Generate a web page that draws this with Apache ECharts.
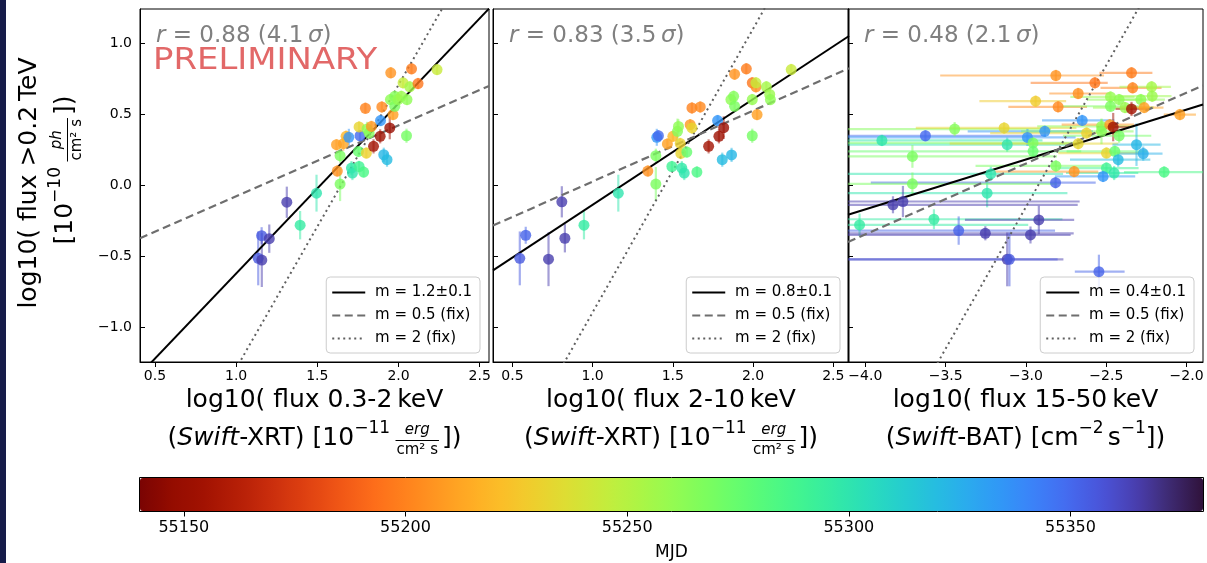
<!DOCTYPE html>
<html>
<head>
<meta charset="utf-8">
<script src="https://cdn.jsdelivr.net/npm/echarts@6.0.0/dist/echarts.min.js"></script>
<style>
  html, body { margin: 0; padding: 0; background: #fff; }
  #chart { width: 1207px; height: 563px; }
</style>
</head>
<body>
<div id="chart"></div>
<script>
// [log10 flux 0.3-2 keV, log10 flux >0.2 TeV, MJD, yErr]
const softXrt = [
  [1.157, -0.354, 55355, 0.06], [1.204, -0.375, 55365, 0.10], [1.136, -0.514, 55355, 0.19],
  [1.158, -0.526, 55365, 0.19], [1.312, -0.118, 55365, 0.11], [1.394, -0.280, 55296, 0.10],
  [1.495, -0.054, 55300, 0.13], [1.623, 0.102, 55205, 0.04], [1.640, 0.010, 55268, 0.12],
  [1.640, 0.210, 55268, 0.05], [1.660, 0.295, 55212, 0.05], [1.677, 0.347, 55218, 0.04],
  [1.618, 0.288, 55210, 0.04], [1.694, 0.340, 55335, 0.06], [1.710, 0.123, 55298, 0.05],
  [1.716, 0.088, 55300, 0.05], [1.753, 0.240, 55275, 0.04], [1.757, 0.134, 55290, 0.04],
  [1.763, 0.351, 55350, 0.04], [1.757, 0.413, 55232, 0.04], [1.785, 0.095, 55285, 0.04],
  [1.796, 0.545, 55200, 0.04], [1.802, 0.229, 55230, 0.04], [1.806, 0.399, 55262, 0.05],
  [1.819, 0.370, 55265, 0.04], [1.846, 0.276, 55155, 0.05], [1.833, 0.417, 55208, 0.04],
  [1.887, 0.347, 55152, 0.05], [1.897, 0.554, 55202, 0.04], [1.889, 0.458, 55335, 0.04],
  [1.909, 0.217, 55322, 0.05], [1.929, 0.182, 55320, 0.05], [1.946, 0.406, 55150, 0.08],
  [1.952, 0.795, 55206, 0.04], [1.966, 0.500, 55210, 0.04], [1.950, 0.606, 55262, 0.04],
  [1.977, 0.629, 55265, 0.04], [1.977, 0.559, 55268, 0.04], [1.997, 0.606, 55260, 0.04],
  [2.017, 0.629, 55258, 0.04], [2.028, 0.724, 55245, 0.04], [2.052, 0.606, 55262, 0.04],
  [2.069, 0.696, 55255, 0.04], [2.080, 0.823, 55198, 0.04], [2.120, 0.719, 55196, 0.04],
  [2.049, 0.351, 55270, 0.05], [2.237, 0.818, 55244, 0.04]
];

// [log10 flux 2-10 keV, log10 flux >0.2 TeV, MJD, yErr]
const hardXrt = [
  [0.546, -0.514, 55355, 0.19], [0.583, -0.351, 55352, 0.06], [0.725, -0.520, 55365, 0.19],
  [0.808, -0.115, 55365, 0.11], [0.827, -0.372, 55365, 0.10], [0.946, -0.280, 55296, 0.10],
  [1.160, -0.054, 55300, 0.13], [1.344, 0.102, 55205, 0.04], [1.394, 0.010, 55268, 0.12],
  [1.394, 0.210, 55268, 0.05], [1.400, 0.340, 55335, 0.06], [1.410, 0.351, 55350, 0.04],
  [1.466, 0.293, 55210, 0.04], [1.494, 0.134, 55290, 0.04], [1.500, 0.347, 55218, 0.04],
  [1.529, 0.382, 55265, 0.09], [1.535, 0.417, 55262, 0.05], [1.546, 0.297, 55230, 0.04],
  [1.550, 0.226, 55232, 0.04], [1.556, 0.123, 55298, 0.05], [1.571, 0.088, 55300, 0.05],
  [1.587, 0.236, 55275, 0.04], [1.608, 0.429, 55208, 0.04], [1.619, 0.406, 55232, 0.04],
  [1.619, 0.547, 55200, 0.04], [1.650, 0.095, 55285, 0.04], [1.671, 0.554, 55202, 0.04],
  [1.723, 0.276, 55155, 0.05], [1.779, 0.458, 55335, 0.04], [1.787, 0.347, 55152, 0.05],
  [1.808, 0.182, 55320, 0.05], [1.817, 0.408, 55150, 0.08], [1.866, 0.216, 55322, 0.05],
  [1.862, 0.606, 55262, 0.04], [1.879, 0.629, 55265, 0.04], [1.885, 0.559, 55268, 0.04],
  [1.885, 0.785, 55206, 0.04], [1.958, 0.823, 55198, 0.04], [1.995, 0.606, 55260, 0.04],
  [1.995, 0.351, 55270, 0.05], [1.995, 0.724, 55196, 0.04], [2.018, 0.696, 55204, 0.04],
  [2.018, 0.724, 55245, 0.04], [2.025, 0.500, 55210, 0.04], [2.083, 0.696, 55255, 0.04],
  [2.104, 0.642, 55258, 0.04], [2.108, 0.606, 55262, 0.04], [2.238, 0.818, 55244, 0.04]
];

// [log10 flux 15-50 keV, log10 flux >0.2 TeV, MJD, xErrLow, xErrHigh, yErr]
const batFlux = [
  [-3.897, 0.318, 55300, 0.50, 1.00, 0.04], [-3.626, 0.351, 55350, 0.60, 0.75, 0.04],
  [-3.444, 0.398, 55265, 0.80, 0.60, 0.05], [-3.136, 0.406, 55232, 0.55, 0.45, 0.04],
  [-3.117, 0.288, 55300, 1.20, 0.45, 0.05], [-2.991, 0.339, 55335, 1.30, 0.30, 0.06],
  [-2.956, 0.300, 55268, 1.30, 0.30, 0.04], [-2.956, 0.241, 55275, 1.30, 0.30, 0.04],
  [-2.883, 0.382, 55335, 0.48, 0.30, 0.04], [-2.814, 0.776, 55206, 0.72, 0.30, 0.04],
  [-2.571, 0.724, 55196, 0.40, 0.08, 0.04], [-2.675, 0.649, 55204, 0.18, 0.20, 0.04],
  [-2.800, 0.555, 55202, 0.31, 0.18, 0.04], [-2.940, 0.595, 55228, 0.35, 0.19, 0.04],
  [-2.343, 0.795, 55198, 0.20, 0.13, 0.04], [-2.336, 0.689, 55200, 0.20, 0.18, 0.04],
  [-2.650, 0.459, 55335, 0.25, 0.20, 0.04], [-2.623, 0.370, 55230, 0.60, 0.20, 0.04],
  [-2.675, 0.295, 55232, 0.80, 0.25, 0.04], [-2.530, 0.417, 55262, 0.40, 0.20, 0.05],
  [-2.530, 0.382, 55265, 0.50, 0.20, 0.09], [-2.478, 0.429, 55208, 0.30, 0.15, 0.04],
  [-2.457, 0.412, 55152, 0.10, 0.10, 0.10], [-2.474, 0.625, 55260, 0.25, 0.15, 0.04],
  [-2.474, 0.559, 55268, 0.30, 0.20, 0.04], [-2.420, 0.606, 55262, 0.20, 0.15, 0.04],
  [-2.420, 0.351, 55270, 0.35, 0.20, 0.05], [-2.383, 0.550, 55258, 0.20, 0.18, 0.04],
  [-2.343, 0.540, 55155, 0.10, 0.10, 0.05], [-2.285, 0.606, 55262, 0.20, 0.15, 0.04],
  [-2.264, 0.550, 55210, 0.15, 0.12, 0.04], [-2.218, 0.696, 55255, 0.20, 0.12, 0.04],
  [-2.214, 0.630, 55258, 0.20, 0.12, 0.04], [-2.042, 0.500, 55210, 0.10, 0.10, 0.04],
  [-2.499, 0.229, 55232, 0.30, 0.20, 0.04], [-2.447, 0.241, 55275, 0.30, 0.20, 0.04],
  [-2.426, 0.182, 55320, 0.30, 0.20, 0.05], [-2.312, 0.288, 55322, 0.15, 0.15, 0.15],
  [-2.270, 0.225, 55325, 0.15, 0.12, 0.05], [-2.140, 0.095, 55285, 0.25, 0.25, 0.04],
  [-2.499, 0.123, 55290, 0.30, 0.20, 0.04], [-2.451, 0.088, 55298, 0.30, 0.15, 0.05],
  [-2.520, 0.064, 55335, 0.30, 0.20, 0.04], [-2.700, 0.098, 55206, 0.50, 0.15, 0.04],
  [-2.816, 0.020, 55352, 1.15, 0.25, 0.04], [-2.814, 0.138, 55268, 0.50, 0.30, 0.04],
  [-3.219, 0.082, 55300, 1.00, 0.45, 0.05], [-3.242, -0.054, 55300, 0.90, 0.50, 0.10],
  [-3.707, 0.205, 55268, 0.50, 0.90, 0.08], [-3.707, 0.012, 55268, 0.50, 0.90, 0.08],
  [-3.828, -0.136, 55365, 0.40, 1.15, 0.06], [-3.766, -0.113, 55365, 0.40, 1.10, 0.11],
  [-4.036, -0.278, 55296, 0.30, 1.05, 0.08], [-3.573, -0.238, 55296, 0.60, 0.80, 0.07],
  [-3.419, -0.318, 55352, 0.80, 0.60, 0.10], [-3.253, -0.337, 55365, 0.90, 0.55, 0.05],
  [-2.972, -0.349, 55365, 1.20, 0.25, 0.06], [-2.920, -0.243, 55365, 0.46, 0.22, 0.10],
  [-3.117, -0.521, 55365, 1.00, 0.35, 0.19], [-3.103, -0.521, 55355, 1.00, 0.30, 0.19],
  [-2.546, -0.608, 55352, 0.15, 0.16, 0.12]
];

const fitSlopes = [[1.2, 0.5, 2], [0.745, 0.5, 2], [0.352, 0.5, 2]];
const fitIntercepts = [[-1.821, -0.576, -3.29], [-0.881, -0.472, -2.895], [1.24, 1.655, 5.849]];
const fitLabels = [
  ['m = 1.2±0.1', 'm = 0.5 (fix)', 'm = 2 (fix)'],
  ['m = 0.8±0.1', 'm = 0.5 (fix)', 'm = 2 (fix)'],
  ['m = 0.4±0.1', 'm = 0.5 (fix)', 'm = 2 (fix)']
];
const corrR = ['0.88', '0.83', '0.48'];
const corrSigma = ['4.1', '3.5', '2.1'];
const bandLabels = ['0.3-2', '2-10', '15-50'];
const xRanges = [[0.408, 2.557], [0.379, 2.598], [-4.108, -1.898]];
const xTicks = [[0.5, 1.0, 1.5, 2.0, 2.5], [0.5, 1.0, 1.5, 2.0, 2.5], [-4.0, -3.5, -3.0, -2.5, -2.0]];
const yRange = [-1.245, 1.245];
const yTicks = [-1.0, -0.5, 0.0, 0.5, 1.0];
const mjdRange = [55140, 55380];
const mjdTicks = [55150, 55200, 55250, 55300, 55350];

// ---- helpers ----
const FONT = '"DejaVu Sans"';
const ctx2d = document.createElement('canvas').getContext('2d');
const fontStr = (size, italic) => (italic ? 'italic ' : '') + size + 'px ' + FONT;
function measure(str, size, italic) {
  ctx2d.font = fontStr(size, italic);
  return ctx2d.measureText(str).width;
}

// lays out a line of "math" text: plain strings, {it}, {sup}, {sp}, {frac:[num, den]}
function mathRow(parts, size, color) {
  const small = Math.round(size * 0.68);
  const fsz = Math.round(size * 0.6);
  const children = [];
  let x = 0;
  const put = (str, sz, italic, px, py) => children.push({
    type: 'text', x: px, y: py, silent: true,
    style: {
      text: str, font: fontStr(sz, italic), fill: color,
      align: 'left', verticalAlign: 'middle', textAlign: 'left', textVerticalAlign: 'middle'
    }
  });
  parts.forEach(p => {
    if (typeof p === 'string') { put(p, size, false, x, 0); x += measure(p, size, false); }
    else if (p.it) { put(p.it, size, true, x, 0); x += measure(p.it, size, true); }
    else if (p.sup) { put(p.sup, small, false, x, -size * 0.36); x += measure(p.sup, small, false); }
    else if (p.sp) { x += p.sp * size; }
    else if (p.frac) {
      const wn = measure(p.frac[0], fsz, true);
      const wd = measure(p.frac[1], fsz, false);
      const w = Math.max(wn, wd) + 2;
      put(p.frac[0], fsz, true, x + (w - wn) / 2, -size * 0.3);
      put(p.frac[1], fsz, false, x + (w - wd) / 2, size * 0.5);
      children.push({
        type: 'line', silent: true,
        shape: { x1: x, y1: size * 0.1, x2: x + w, y2: size * 0.1 },
        style: { stroke: color, lineWidth: 1 }
      });
      x += w;
    }
  });
  return { children, width: x };
}

function centered(parts, size, cx, cy, rotate) {
  const row = mathRow(parts, size, '#000');
  return {
    type: 'group', x: cx, y: cy, rotation: rotate ? Math.PI / 2 : 0, silent: true,
    children: [{ type: 'group', x: -row.width / 2, y: 0, children: row.children }]
  };
}

function turbo(t) {
  t = Math.max(0, Math.min(1, t));
  const r = 34.61 + t * (1172.33 - t * (10793.56 - t * (33300.12 - t * (38394.49 - t * 14825.05))));
  const g = 23.31 + t * (557.33 + t * (1225.33 - t * (3574.96 - t * (1073.77 + t * 707.56))));
  const b = 27.2 + t * (3211.1 - t * (15327.97 - t * (27814 - t * (22569.18 - t * 6838.66))));
  const c = v => Math.max(0, Math.min(255, Math.round(v)));
  return 'rgb(' + c(r) + ',' + c(g) + ',' + c(b) + ')';
}
const turboR = Array.from({ length: 33 }, (_, i) => turbo(1 - i / 32));
turboR[0] = '#7a0403';
turboR[turboR.length - 1] = '#30123b';

const tickFmt = v => (v < 0 ? '\u2212' : '') + Math.abs(v).toFixed(1);

// ---- layout ----
const grids = [
  { left: 140, top: 9, width: 349, height: 353 },
  { left: 493, top: 9, width: 356, height: 353 },
  { left: 848, top: 9, width: 355, height: 353 }
];

const panels = [softXrt, hardXrt, batFlux];

// error bar table: [x, y, mjd, xLo, xHi, yLo, yHi]
const errTables = panels.map((rows, i) => rows.map(r => {
  const xl = i === 2 ? r[3] : 0, xh = i === 2 ? r[4] : 0, ye = i === 2 ? r[5] : r[3];
  return [r[0], r[1], r[2], r[0] - xl, r[0] + xh, r[1] - ye, r[1] + ye];
}));

function renderErr(params, api) {
  const cs = params.coordSys;
  const cx = v => Math.max(cs.x, Math.min(cs.x + cs.width, v));
  const cy = v => Math.max(cs.y, Math.min(cs.y + cs.height, v));
  const c = api.coord([api.value(0), api.value(1)]);
  const lo = api.coord([api.value(3), api.value(1)]);
  const hi = api.coord([api.value(4), api.value(1)]);
  const bot = api.coord([api.value(0), api.value(5)]);
  const top = api.coord([api.value(0), api.value(6)]);
  const style = { stroke: api.visual('color'), lineWidth: 2.2, opacity: 0.5 };
  const children = [];
  if (hi[0] - lo[0] > 1) {
    children.push({ type: 'line', shape: { x1: cx(lo[0]), y1: c[1], x2: cx(hi[0]), y2: c[1] }, style });
  }
  children.push({ type: 'line', shape: { x1: c[0], y1: cy(bot[1]), x2: c[0], y2: cy(top[1]) }, style });
  return { type: 'group', children };
}

const lineStyles = [
  { color: '#000', width: 2, type: 'solid' },
  { color: '#6e6e6e', width: 2.2, type: [8, 4.5] },
  { color: '#606060', width: 2, type: [2, 3.5] }
];

const series = [];
errTables.forEach((tab, i) => series.push({
  type: 'custom', xAxisIndex: i, yAxisIndex: i, data: tab, renderItem: renderErr,
  encode: { x: 0, y: 1 }, z: 2, silent: true
}));
panels.forEach((rows, i) => series.push({
  type: 'scatter', xAxisIndex: i, yAxisIndex: i, data: rows, symbolSize: 11,
  encode: { x: 0, y: 1 }, z: 4, silent: true
}));
fitSlopes.forEach((slopes, i) => slopes.forEach((m, k) => {
  const b = fitIntercepts[i][k];
  const [x0, x1] = xRanges[i];
  series.push({
    type: 'line', name: fitLabels[i][k], xAxisIndex: i, yAxisIndex: i,
    data: [[x0, m * x0 + b], [x1, m * x1 + b]],
    symbol: 'none', lineStyle: lineStyles[k], itemStyle: { color: lineStyles[k].color },
    clip: true, z: 3, silent: true
  });
}));

const xAxes = grids.map((g, i) => ({
  gridIndex: i, type: 'value', min: xRanges[i][0], max: xRanges[i][1],
  axisLine: { show: true, onZero: false, lineStyle: { color: '#000', width: 1 } },
  axisTick: { show: true, inside: false, length: 5, customValues: xTicks[i], lineStyle: { color: '#000' } },
  axisLabel: { customValues: xTicks[i], formatter: tickFmt, color: '#000', fontSize: 14, fontFamily: 'DejaVu Sans', margin: 7 },
  splitLine: { show: false }
}));
xAxes.push({
  gridIndex: 3, type: 'value', min: mjdRange[0], max: mjdRange[1],
  axisLine: { show: false },
  axisTick: { show: true, inside: false, length: 5, customValues: mjdTicks, lineStyle: { color: '#000' } },
  axisLabel: { customValues: mjdTicks, formatter: v => String(v), color: '#000', fontSize: 16, fontFamily: 'DejaVu Sans', margin: 8 },
  splitLine: { show: false },
  name: 'MJD', nameLocation: 'middle', nameGap: 33,
  nameTextStyle: { color: '#000', fontSize: 17, fontFamily: 'DejaVu Sans' }
});

const yAxes = grids.map((g, i) => ({
  gridIndex: i, type: 'value', min: yRange[0], max: yRange[1],
  axisLine: { show: true, onZero: false, lineStyle: { color: '#000', width: 1 } },
  axisTick: { show: true, inside: true, length: 5, customValues: yTicks, lineStyle: { color: '#000' } },
  axisLabel: { show: i === 0, customValues: yTicks, formatter: tickFmt, color: '#000', fontSize: 14, fontFamily: 'DejaVu Sans', margin: 8 },
  splitLine: { show: false }
}));
yAxes.push({ gridIndex: 3, type: 'value', min: 0, max: 1, show: false });

const graphics = [
  { type: 'rect', shape: { x: 0, y: 0, width: 6, height: 563 }, style: { fill: '#161c4a' }, silent: true }
];
grids.forEach((g, i) => {
  const row = mathRow([{ it: 'r' }, ' = ' + corrR[i] + ' (' + corrSigma[i] + '\u2009', { it: 'σ' }, ')'], 23, '#808080');
  graphics.push({ type: 'group', x: g.left + 16, y: 36, silent: true, children: row.children });
  const cx = g.left + g.width / 2;
  graphics.push(centered(['log10( flux ' + bandLabels[i] + '\u2009keV'], 25, cx, 400));
  const second = i < 2
    ? ['(', { it: 'Swift' }, '-XRT) [10', { sup: '\u221211' }, { sp: 0.22 }, { frac: ['erg', 'cm\u00b2 s'] }, { sp: 0.12 }, '])']
    : ['(', { it: 'Swift' }, '-BAT) [cm', { sup: '\u22122' }, { sp: 0.16 }, 's', { sup: '\u22121' }, '])'];
  graphics.push(centered(second, 25, cx, 438));
});
graphics.push(centered(['log10( flux >0.2\u2009TeV'], 25, 29, 183, true));
graphics.push(centered(['[10', { sup: '\u221210' }, { sp: 0.22 }, { frac: ['ph', 'cm\u00b2 s'] }, { sp: 0.12 }, '])'], 25, 65, 170, true));
graphics.push({
  type: 'text', x: 153, y: 61, scaleX: 1.13, silent: true,
  style: {
    text: 'PRELIMINARY', font: '30px ' + FONT, fill: '#e26868',
    align: 'left', verticalAlign: 'middle', textAlign: 'left', textVerticalAlign: 'middle'
  }
});

const option = {
  animation: false,
  backgroundColor: '#fff',
  grid: grids.map(g => Object.assign({
    show: true, borderColor: '#000', borderWidth: 1, backgroundColor: 'transparent',
    containLabel: false, outerBoundsMode: 'none'
  }, g)).concat([{
    left: 139.5, top: 477.5, width: 1064, height: 34, show: true, borderColor: '#000',
    borderWidth: 1, backgroundColor: 'transparent', containLabel: false, outerBoundsMode: 'none'
  }]),
  xAxis: xAxes,
  yAxis: yAxes,
  visualMap: {
    type: 'continuous', min: mjdRange[0], max: mjdRange[1], dimension: 2,
    seriesIndex: [0, 1, 2, 3, 4, 5], orient: 'horizontal',
    left: 140, top: 478, itemWidth: 33, itemHeight: 1063, padding: 0,
    calculable: false, hoverLink: false, text: null, showLabel: false,
    inRange: { color: turboR }
  },
  legend: fitLabels.map((names, i) => ({
    data: names, orient: 'vertical', selectedMode: false,
    right: 1207 - (grids[i].left + grids[i].width) + 9, top: 277,
    padding: [8, 8, 7, 5], itemGap: 8, itemWidth: 33, itemHeight: 15,
    itemStyle: { opacity: 0 },
    backgroundColor: 'rgba(255,255,255,0.85)', borderColor: '#cccccc', borderWidth: 1, borderRadius: 4,
    formatter: n => ' ' + n,
    textStyle: { color: '#000', fontSize: 15, fontFamily: 'DejaVu Sans' }
  })),
  graphic: graphics,
  series
};

const chart = echarts.init(document.getElementById('chart'));
chart.setOption(option);
window.addEventListener('resize', chart.resize);
</script>
</body>
</html>
